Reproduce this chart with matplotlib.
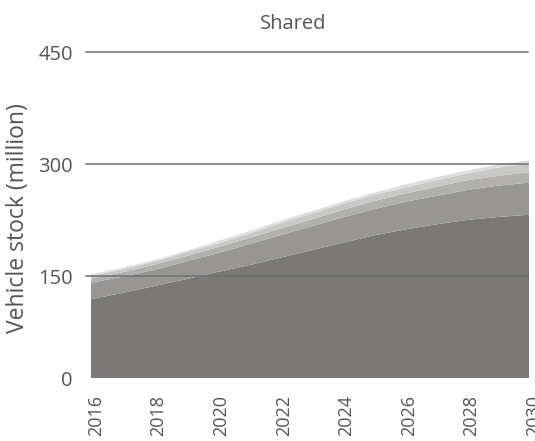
import numpy as np
import matplotlib
matplotlib.use("Agg")
import matplotlib.pyplot as plt
import matplotlib.transforms as mtransforms

plt.rcParams['font.family'] = ['Open Sans', 'DejaVu Sans']

# data (million vehicles), stacked layers bottom to top
years = list(range(2016, 2031))
layer1 = [116, 125, 135, 145, 155, 164, 174, 184, 194, 204, 212, 219, 225, 229, 232]
layer2 = [24, 24, 23, 24, 25, 28, 30, 32, 34, 35, 37, 38, 40, 42, 43]
layer3 = [6, 6, 7, 7, 8, 8, 9, 9, 10, 11, 11, 12, 13, 13, 14]
layer4 = [4, 4, 4, 5, 5, 6, 7, 8, 8, 8, 8, 9, 9, 11, 12]
layer5 = [2, 2, 2, 2, 3, 3, 3, 3, 3, 3, 4, 4, 4, 4, 4]
layer_colors = ['#7b7977', '#979694', '#b1b0ae', '#c9c8c6', '#dedddb']

yticks = [0, 150, 300, 450]
xticks = list(range(2016, 2031, 2))

# the original axis is not quite linear: gaps between ticks differ
tick_pos = [0, 102, 214, 326]


def fwd(v):
    return np.interp(v, yticks, tick_pos)


def inv(u):
    return np.interp(u, tick_pos, yticks)


fig = plt.figure(figsize=(5.35, 4.41), dpi=100)
ax = fig.add_axes([91 / 535, 1 - 378 / 441, 438 / 535, 326 / 441])
ax.set_yscale('function', functions=(fwd, inv))

ax.stackplot(years, layer1, layer2, layer3, layer4, layer5,
             colors=layer_colors, linewidth=0, zorder=1)

ax.set_xlim(2016, 2030)
ax.set_ylim(0, 450)

# horizontal grid lines, drawn over the areas and a bit past the left edge
tr = ax.get_yaxis_transform()
for t in yticks[1:]:
    ax.plot([-0.012, 0.9977], [t, t], transform=tr, color='#6f6f6f',
            lw=1.1, clip_on=False, zorder=3)

for s in ax.spines.values():
    s.set_visible(False)

ax.set_yticks(yticks)
ax.set_yticklabels([str(t) for t in yticks])
ax.set_xticks(xticks)
ax.set_xticklabels([str(t) for t in xticks], rotation=90, va='top', ha='center')
ax.tick_params(axis='y', length=0, pad=13, labelsize=14.5, labelcolor='#555555')
ax.tick_params(axis='x', length=0, pad=12, labelsize=13, labelcolor='#555555')

offset = mtransforms.ScaledTranslation(5 / 100, 0, fig.dpi_scale_trans)
for lab in ax.get_xticklabels():
    lab.set_transform(lab.get_transform() + offset)

ax.set_ylabel('Vehicle stock (million)', fontsize=16.5, color='#555555')
ax.yaxis.set_label_coords(-0.14, 0.49)

fig.text(293 / 535, 1 - 24 / 441, 'Shared', ha='center', va='center',
         fontsize=14.5, color='#555555')

fig.savefig('out.png', dpi=100)
